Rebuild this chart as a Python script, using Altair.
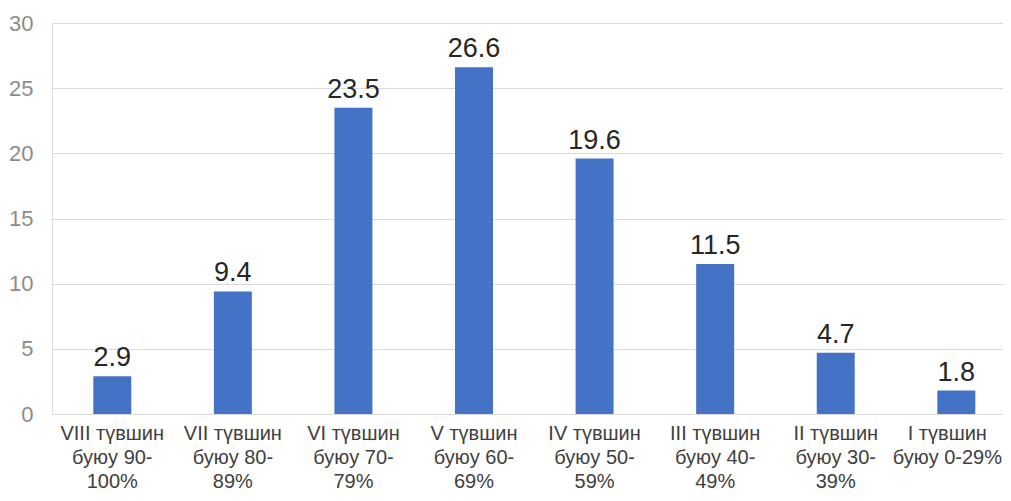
import altair as alt
import pandas as pd

categories = [
    "VIII түвшин|буюу 90-|100%",
    "VII түвшин|буюу 80-|89%",
    "VI түвшин|буюу 70-|79%",
    "V түвшин|буюу 60-|69%",
    "IV түвшин|буюу 50-|59%",
    "III түвшин|буюу 40-|49%",
    "II түвшин|буюу 30-|39%",
    "I түвшин|буюу 0-29%",
]
values = [2.9, 9.4, 23.5, 26.6, 19.6, 11.5, 4.7, 1.8]
y_ticks = [0, 5, 10, 15, 20, 25, 30]

df = pd.DataFrame({"cat": categories, "val": values})
FONT = "Liberation Sans"
last_cat = categories[-1]

x = alt.X(
    "cat:N",
    sort=categories,
    title=None,
    scale=alt.Scale(range=[0, 964.6], paddingInner=0.685, paddingOuter=0.3425),
    axis=alt.Axis(
        labelExpr="split(datum.label, '|')",
        labelAngle=0,
        labelFont=FONT,
        labelFontSize=20,
        labelColor="#404040",
        labelLineHeight=24,
        labelBaseline="top",
        labelPadding=9,
        labelOffset={"condition": {"test": f"datum.value == '{last_cat}'", "value": -9}, "value": 0},
        ticks=False,
        tickSize=0,
        domain=True,
        domainColor="#d9d9d9",
        domainWidth=1,
        grid=False,
    ),
)
y = alt.Y(
    "val:Q",
    title=None,
    scale=alt.Scale(domain=[0, 30], nice=False),
    axis=alt.Axis(
        values=y_ticks,
        labelFont=FONT,
        labelFontSize=22,
        labelColor="#8c8c8c",
        labelPadding=19,
        ticks=False,
        tickSize=0,
        domain=False,
        grid=True,
        gridColor="#d9d9d9",
        gridWidth=1,
    ),
)

bars = alt.Chart(df).mark_bar(color="#4472C4").encode(x=x, y=y)
labels = alt.Chart(df).mark_text(
    font=FONT, fontSize=27, color="#262626", baseline="alphabetic", dy=-10
).encode(x=alt.X("cat:N", sort=categories), y="val:Q", text=alt.Text("val:Q", format=".1f"))

chart = (
    alt.layer(bars, labels)
    .properties(
        width=951,
        height=391,
        padding={"left": 44, "top": 15, "right": 0, "bottom": 78},
        autosize=alt.AutoSizeParams(type="none"),
    )
    .configure_view(stroke=None)
    .configure(background="white")
)

chart.save("out.html", embed_options={"renderer": "svg", "actions": False})
